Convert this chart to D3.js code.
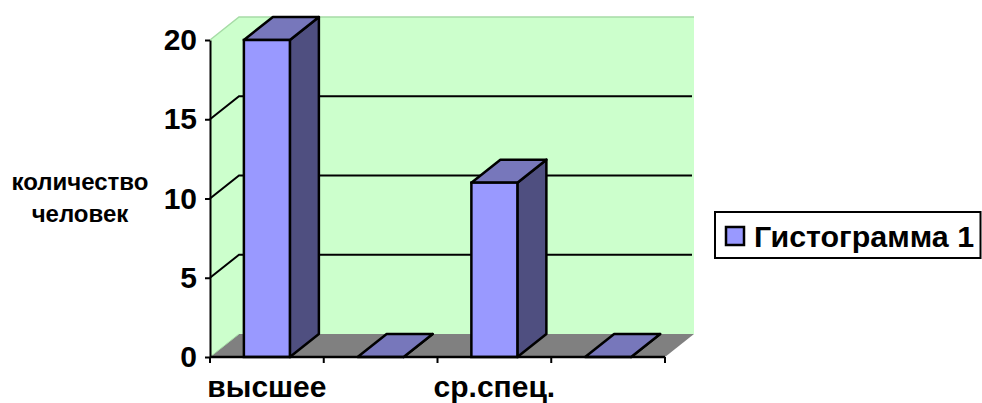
<!DOCTYPE html>
<html><head><meta charset="utf-8">
<script src="https://cdnjs.cloudflare.com/ajax/libs/d3/7.8.5/d3.min.js"></script>
<style>html,body{margin:0;padding:0;background:#fff}svg{display:block}text{font-family:"Liberation Sans",Arial,sans-serif;font-weight:bold;fill:#000}</style>
</head><body><svg id="c" width="982" height="403"></svg>
<script>
const categories = ["высшее", "", "ср.спец.", ""];
const values = [20, 0, 11, 0];
const yTicks = [0, 5, 10, 15, 20];
const seriesName = "Гистограмма 1";
const yTitle = ["количество", "человек"];

const svg = d3.select("#c");
const DX = 29, DY = -23;
const x = d3.scaleBand().domain(d3.range(categories.length)).range([210, 665]);
const y = d3.scaleLinear().domain([0, 20]).range([357, 40]);
const barW = 46;
const bx = i => x(i) + (x.bandwidth() - barW) / 2;
const poly = p => p.map(q => q.join(",")).join(" ");
const x0 = x.range()[0], x1 = x.range()[1], y0 = y(0), yT = y(20);

svg.append("polygon").attr("points", poly([[x0, yT], [x0 + DX, yT + DY], [x1 + DX, yT + DY], [x1 + DX, y0 + DY], [x0 + DX, y0 + DY], [x0, y0]])).attr("fill", "#ccffcc");
svg.append("polygon").attr("points", poly([[x0, y0], [x0 + DX, y0 + DY], [x1 + DX, y0 + DY], [x1, y0]])).attr("fill", "#808080");
svg.append("polyline").attr("points", poly([[x0, yT], [x0 + DX, yT + DY], [x1 + DX, yT + DY]])).attr("fill", "none").attr("stroke", "#a6dca6").attr("stroke-width", 1.5);
svg.append("line").attr("x1", x0).attr("y1", y0).attr("x2", x0 + DX).attr("y2", y0 + DY).attr("stroke", "#a6dca6").attr("stroke-width", 1);

svg.selectAll(".grid").data(yTicks.filter(t => t > 0 && t < 20)).join("polyline")
  .attr("points", t => poly([[x0, y(t)], [x0 + DX, y(t) + DY], [x1 + DX - 2, y(t) + DY]]))
  .attr("fill", "none").attr("stroke", "#000").attr("stroke-width", 2);

const bars = svg.selectAll(".bar").data(values).join("g");
bars.append("polygon").attr("points", (v, i) => poly([[bx(i) + barW, y(v)], [bx(i) + barW + DX, y(v) + DY], [bx(i) + barW + DX, y0 + DY], [bx(i) + barW, y0]]))
  .attr("fill", "#4f4f80").attr("stroke", "#000").attr("stroke-width", 2.5).attr("stroke-linejoin", "round");
bars.append("polygon").attr("points", (v, i) => poly([[bx(i), y(v)], [bx(i) + DX, y(v) + DY], [bx(i) + barW + DX, y(v) + DY], [bx(i) + barW, y(v)]]))
  .attr("fill", "#7777bb").attr("stroke", "#000").attr("stroke-width", 2.5).attr("stroke-linejoin", "round");
bars.append("rect").attr("x", (v, i) => bx(i)).attr("y", v => y(v)).attr("width", barW).attr("height", v => y0 - y(v))
  .attr("fill", "#9999ff").attr("stroke", "#000").attr("stroke-width", 2.5);

const yAxis = d3.axisLeft(y).tickValues(yTicks).tickSize(5).tickPadding(8).tickSizeOuter(0);
const gy = svg.append("g").attr("transform", `translate(${x0},0)`).call(yAxis);
gy.selectAll("path,line").attr("stroke", "#000").attr("stroke-width", 2);
gy.selectAll("text").attr("font-size", 30).style("font-family", '"Liberation Sans",Arial,sans-serif').style("font-weight", "bold");

const edges = d3.range(categories.length + 1);
svg.append("line").attr("x1", x0).attr("x2", x1).attr("y1", y0).attr("y2", y0).attr("stroke", "#000").attr("stroke-width", 2.5);
svg.selectAll(".xt").data(edges).join("line")
  .attr("x1", i => x0 + i * x.bandwidth()).attr("x2", i => x0 + i * x.bandwidth())
  .attr("y1", y0).attr("y2", y0 + 6).attr("stroke", "#000").attr("stroke-width", 2);
svg.selectAll(".xl").data(categories).join("text")
  .attr("x", (c, i) => x(i) + x.bandwidth() / 2).attr("y", 397).attr("text-anchor", "middle").attr("font-size", 30).text(c => c);

svg.selectAll(".yt").data(yTitle).join("text")
  .attr("x", 80).attr("y", (d, i) => 190 + i * 32).attr("text-anchor", "middle").attr("font-size", 24).text(d => d);

svg.append("rect").attr("x", 715).attr("y", 212).attr("width", 265.5).attr("height", 46).attr("fill", "#fff").attr("stroke", "#000").attr("stroke-width", 2);
svg.append("rect").attr("x", 726).attr("y", 227).attr("width", 18).attr("height", 18).attr("fill", "#9999ff").attr("stroke", "#000").attr("stroke-width", 2.5);
svg.append("text").attr("x", 754).attr("y", 247).attr("font-size", 30.4).text(seriesName);
</script></body></html>
